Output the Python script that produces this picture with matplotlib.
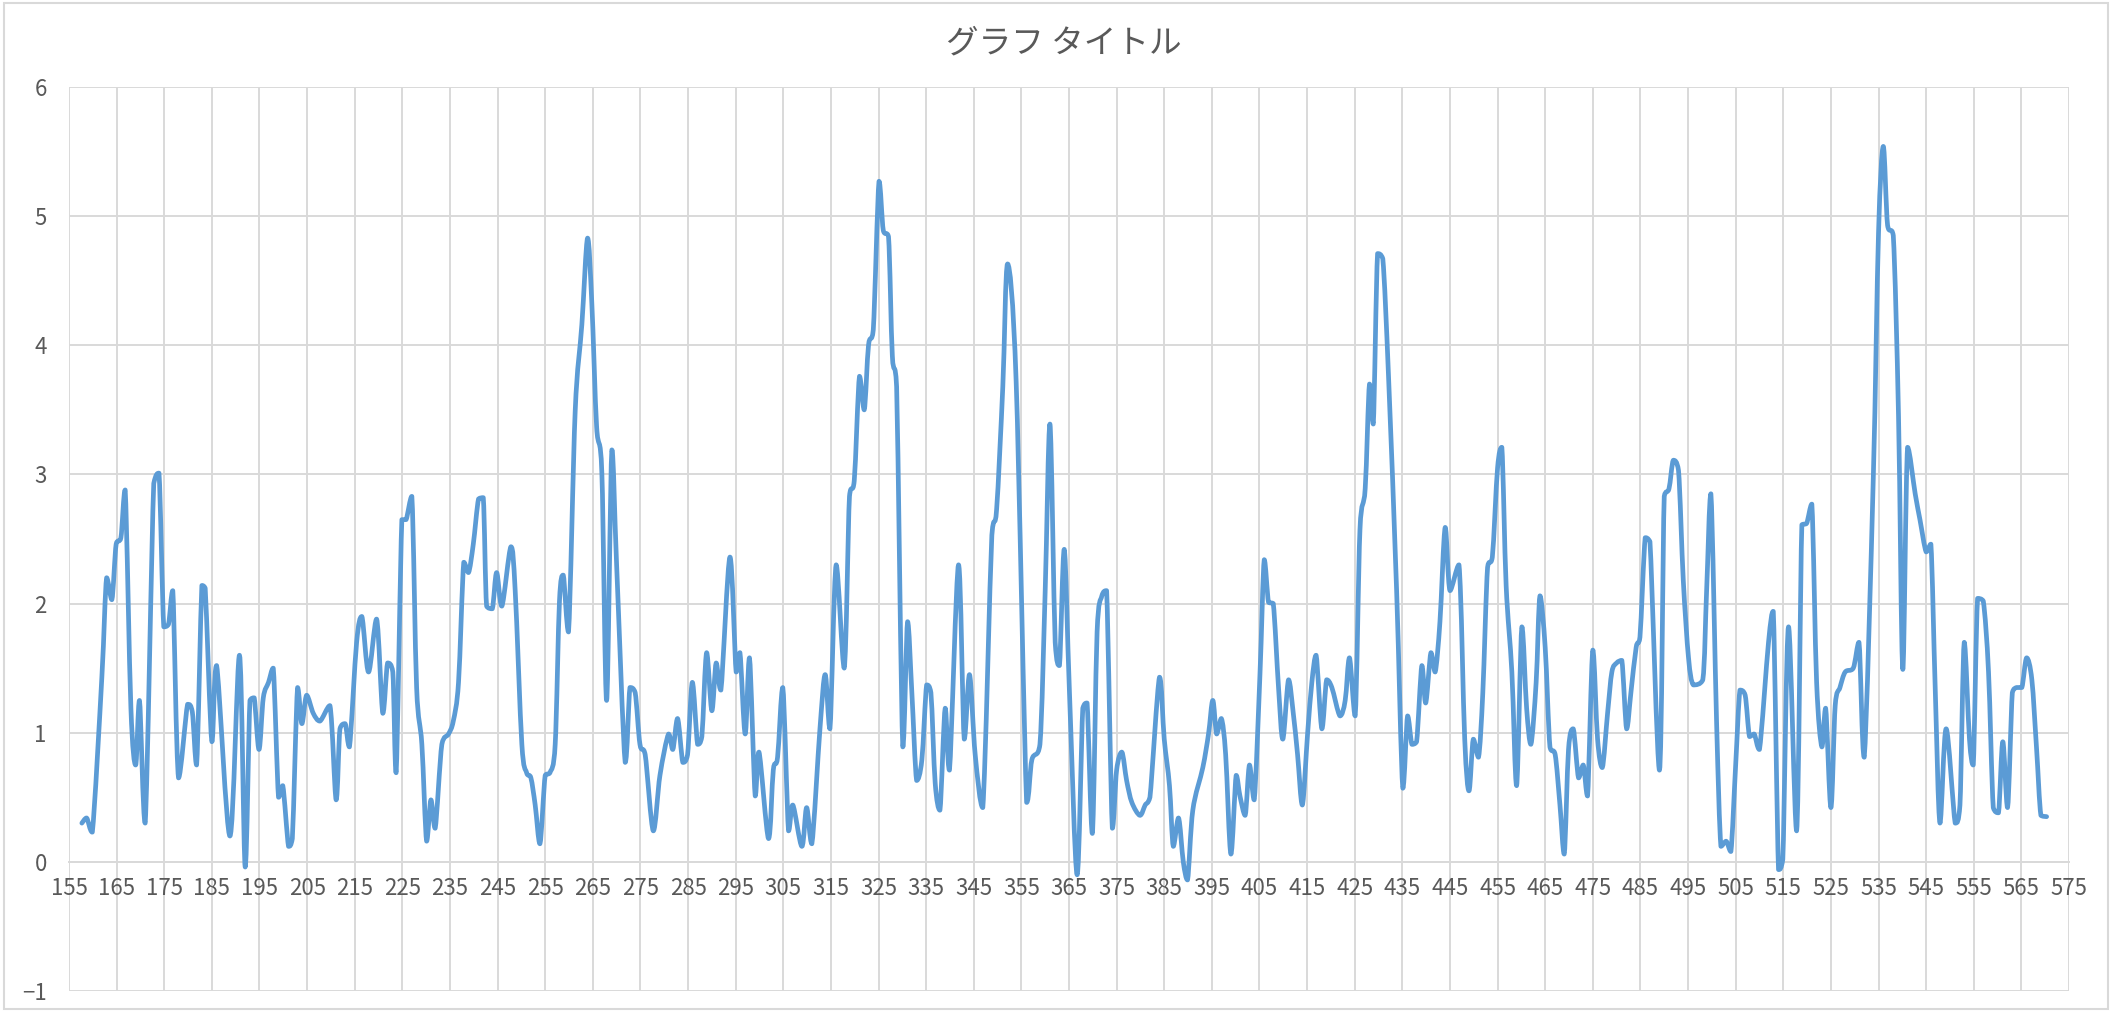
import matplotlib.pyplot as plt
from matplotlib.patches import Rectangle, PathPatch
from matplotlib.path import Path
import numpy as np

# points (x position, value)
xs = [157.7, 158.7, 159.9, 161.9, 162.9, 164.0, 164.9, 165.9, 166.8, 168.0,
      169.0, 169.8, 171.0, 172.8, 173.9, 174.9, 175.9, 176.8, 178.0, 179.9,
      180.9, 181.8, 182.9, 183.6, 185.0, 186.0, 188.8, 190.8, 192.0, 193.0,
      193.9, 194.9, 195.8, 196.9, 197.9, 199.0, 199.9, 201.1, 201.9, 203.0,
      203.9, 204.9, 206.3, 207.7, 209.8, 211.1, 211.9, 213.0, 213.9, 215.4,
      216.5, 217.9, 219.6, 220.9, 221.9, 223.0, 223.7, 224.9, 225.8, 227.0,
      228.0, 229.1, 230.1, 231.0, 231.9, 233.3, 234.7, 235.7, 236.8, 237.9,
      238.9, 239.9, 241.0, 242.0, 242.7, 243.9, 244.8, 245.9, 247.8, 248.7,
      250.1, 251.1, 252.0, 252.9, 253.9, 255.0, 256.0, 257.1, 258.0, 258.8,
      259.9, 261.3, 262.7, 263.9, 264.8, 265.8, 266.9, 267.9, 269.0, 270.0,
      271.8, 272.8, 273.9, 274.9, 276.0, 277.7, 279.1, 280.9, 281.8, 282.8,
      283.9, 284.9, 285.9, 287.0, 287.9, 288.9, 290.0, 290.9, 291.9, 293.8,
      295.1, 295.9, 297.0, 297.9, 299.1, 299.9, 301.9, 302.9, 303.8, 304.9,
      306.1, 307.0, 308.9, 309.9, 311.0, 312.7, 313.8, 314.8, 316.1, 317.8,
      318.9, 319.9, 321.0, 322.0, 322.9, 323.9, 325.1, 326.0, 327.1, 327.9,
      328.8, 330.1, 331.1, 332.0, 333.0, 334.1, 335.1, 336.0, 336.9, 337.9,
      339.0, 339.9, 341.8, 343.0, 344.1, 345.3, 346.9, 348.8, 349.8, 351.1,
      352.1, 353.9, 356.1, 357.2, 358.9, 360.0, 361.0, 362.1, 363.0, 364.0,
      365.1, 366.7, 367.9, 368.8, 369.9, 370.9, 371.9, 372.9, 374.1, 375.0,
      376.1, 377.1, 378.2, 379.9, 381.0, 382.0, 384.0, 385.0, 386.1, 386.9,
      388.0, 389.0, 389.9, 391.0, 393.1, 394.3, 395.2, 396.0, 397.0, 397.9,
      399.0, 400.1, 400.9, 402.0, 402.9, 403.9, 405.1, 406.0, 406.9, 407.9,
      409.0, 409.9, 411.1, 412.1, 413.0, 414.0, 415.1, 416.0, 416.9, 418.1,
      419.1, 420.2, 421.9, 423.0, 423.9, 425.1, 426.1, 427.2, 428.1, 428.9,
      429.8, 430.9, 432.1, 433.8, 435.1, 436.1, 437.0, 438.0, 439.1, 439.9,
      441.0, 441.9, 442.9, 444.0, 445.0, 446.9, 448.1, 449.0, 449.9, 451.0,
      451.9, 452.9, 453.9, 455.0, 455.9, 456.8, 458.0, 459.0, 460.1, 461.1,
      462.0, 463.1, 463.9, 465.0, 466.0, 467.1, 468.1, 469.0, 469.9, 470.9,
      472.0, 473.0, 473.9, 475.0, 476.0, 477.0, 478.1, 479.0, 480.0, 481.1,
      482.1, 483.0, 484.1, 484.9, 486.0, 487.0, 489.0, 490.0, 491.0, 491.9,
      493.0, 494.0, 495.1, 496.1, 498.1, 498.9, 499.8, 501.0, 501.9, 503.0,
      504.0, 505.0, 505.9, 507.0, 507.9, 508.9, 510.0, 511.9, 512.9, 514.0,
      514.9, 516.1, 517.8, 518.9, 519.9, 521.0, 522.0, 523.1, 523.9, 525.0,
      525.9, 526.9, 528.0, 529.7, 530.9, 532.0, 533.9, 535.0, 536.0, 536.9,
      538.1, 539.2, 540.1, 541.1, 542.7, 543.7, 545.0, 546.0, 546.9, 547.9,
      549.2, 551.1, 552.1, 553.0, 554.1, 554.9, 555.8, 557.0, 558.1, 559.1,
      560.2, 561.1, 562.1, 563.1, 564.0, 565.1, 566.1, 567.2, 568.2, 569.1,
      570.3]
ys = [0.30, 0.34, 0.23, 1.43, 2.20, 2.03, 2.46, 2.51, 2.88, 1.19,
      0.75, 1.25, 0.30, 2.93, 3.01, 1.82, 1.84, 2.10, 0.65, 1.22,
      1.16, 0.75, 2.14, 2.12, 0.93, 1.52, 0.20, 1.60, -0.04, 1.25,
      1.27, 0.87, 1.27, 1.39, 1.50, 0.50, 0.59, 0.12, 0.18, 1.35,
      1.07, 1.29, 1.15, 1.09, 1.21, 0.48, 1.03, 1.07, 0.89, 1.70,
      1.90, 1.47, 1.88, 1.15, 1.54, 1.47, 0.69, 2.65, 2.65, 2.83,
      1.35, 0.91, 0.16, 0.48, 0.26, 0.91, 0.99, 1.09, 1.39, 2.32,
      2.24, 2.46, 2.81, 2.82, 1.98, 1.96, 2.24, 1.98, 2.44, 2.10,
      0.91, 0.69, 0.65, 0.44, 0.14, 0.67, 0.69, 0.91, 2.02, 2.22,
      1.78, 3.49, 4.16, 4.83, 4.32, 3.37, 3.01, 1.25, 3.19, 2.30,
      0.77, 1.35, 1.31, 0.91, 0.83, 0.24, 0.67, 0.99, 0.87, 1.11,
      0.77, 0.83, 1.39, 0.91, 0.97, 1.62, 1.17, 1.54, 1.33, 2.36,
      1.47, 1.62, 0.99, 1.58, 0.51, 0.85, 0.18, 0.71, 0.81, 1.35,
      0.24, 0.44, 0.12, 0.42, 0.14, 1.03, 1.45, 1.03, 2.30, 1.50,
      2.83, 2.95, 3.76, 3.50, 4.00, 4.12, 5.27, 4.89, 4.84, 3.92,
      3.68, 0.89, 1.86, 1.31, 0.63, 0.79, 1.37, 1.31, 0.61, 0.40,
      1.19, 0.71, 2.30, 0.95, 1.45, 0.83, 0.42, 2.53, 2.73, 3.68,
      4.63, 3.72, 0.46, 0.79, 0.91, 2.10, 3.39, 1.70, 1.52, 2.42,
      1.31, -0.10, 1.19, 1.23, 0.22, 1.78, 2.06, 2.10, 0.26, 0.71,
      0.85, 0.63, 0.46, 0.36, 0.44, 0.50, 1.43, 0.95, 0.59, 0.12,
      0.34, 0.00, -0.14, 0.40, 0.73, 0.99, 1.25, 0.99, 1.11, 0.83,
      0.06, 0.67, 0.51, 0.36, 0.75, 0.48, 1.45, 2.34, 2.01, 2.00,
      1.35, 0.95, 1.41, 1.15, 0.83, 0.44, 0.99, 1.39, 1.60, 1.03,
      1.41, 1.35, 1.13, 1.25, 1.58, 1.13, 2.57, 2.89, 3.70, 3.39,
      4.71, 4.67, 3.76, 2.10, 0.57, 1.13, 0.91, 0.93, 1.52, 1.23,
      1.62, 1.47, 1.86, 2.59, 2.10, 2.30, 0.95, 0.55, 0.95, 0.81,
      1.31, 2.28, 2.36, 3.05, 3.21, 2.14, 1.47, 0.59, 1.82, 1.19,
      0.91, 1.39, 2.06, 1.66, 0.89, 0.83, 0.44, 0.06, 0.87, 1.03,
      0.65, 0.75, 0.51, 1.64, 0.95, 0.73, 1.15, 1.47, 1.54, 1.56,
      1.03, 1.31, 1.66, 1.74, 2.51, 2.48, 0.71, 2.83, 2.89, 3.11,
      3.03, 2.18, 1.58, 1.37, 1.41, 2.10, 2.85, 1.07, 0.12, 0.16,
      0.08, 0.75, 1.33, 1.29, 0.97, 0.99, 0.87, 1.70, 1.94, -0.06,
      0.02, 1.82, 0.24, 2.61, 2.62, 2.77, 1.39, 0.89, 1.19, 0.42,
      1.21, 1.35, 1.47, 1.50, 1.70, 0.81, 2.97, 4.87, 5.54, 4.93,
      4.85, 3.45, 1.49, 3.21, 2.85, 2.65, 2.40, 2.46, 1.35, 0.30,
      1.03, 0.30, 0.44, 1.70, 0.95, 0.75, 2.04, 2.02, 1.47, 0.42,
      0.38, 0.93, 0.42, 1.31, 1.35, 1.35, 1.58, 1.41, 0.87, 0.36,
      0.35]

x_ticks = np.arange(155, 576, 10)
y_ticks = np.arange(-1, 7, 1)
title = 'グラフ タイトル'

plt.rcParams['font.family'] = ['Noto Sans CJK JP', 'DejaVu Sans']

W, H = 2112, 1011
fig = plt.figure(figsize=(W / 100, H / 100), dpi=100)
ax = fig.add_axes([69 / W, 20 / H, 2000 / W, 904 / H])

# smoothed line like Excel: cubic bezier through the points,
# control points kept inside each segment so peaks do not overshoot
pts = np.column_stack([xs, ys])
n = len(pts)
t = 0.16
tang = np.zeros_like(pts)
for i in range(n):
    a = pts[max(i - 1, 0)]
    b = pts[min(i + 1, n - 1)]
    tang[i] = (b - a) * t
verts = [pts[0]]
codes = [Path.MOVETO]
for i in range(n - 1):
    lo = min(pts[i, 1], pts[i + 1, 1])
    hi = max(pts[i, 1], pts[i + 1, 1])
    c1 = pts[i] + tang[i]
    c2 = pts[i + 1] - tang[i + 1]
    c1[1] = np.clip(c1[1], lo, hi)
    c2[1] = np.clip(c2[1], lo, hi)
    verts += [c1, c2, pts[i + 1]]
    codes += [Path.CURVE4] * 3
line = PathPatch(Path(verts, codes), fill=False, ec='#5B9BD5', lw=3.4,
                 joinstyle='round', capstyle='round', zorder=3)
ax.add_patch(line)

ax.set_xlim(155, 575)
ax.set_ylim(-1, 6)
ax.set_xticks(x_ticks)
ax.set_yticks(y_ticks)
ax.grid(color='#d9d9d9', lw=1.4)
ax.set_axisbelow(True)

for s in ['top', 'right', 'left']:
    ax.spines[s].set_visible(False)
# category labels sit on the zero line like in Excel
ax.spines['bottom'].set_position(('data', 0))
ax.spines['bottom'].set_color('#d9d9d9')
ax.spines['bottom'].set_linewidth(1.4)
ax.tick_params(axis='both', length=0, labelsize=16, colors='#595959')
ax.tick_params(axis='x', pad=11)
ax.tick_params(axis='y', pad=16)

fig.text(1064 / W, 1 - 43 / H, title, ha='center', va='center',
         fontsize=23.5, color='#595959')

# chart area border
fig.add_artist(Rectangle((0.002, 0.002), 0.996, 0.995, transform=fig.transFigure,
                         fill=False, ec='#d9d9d9', lw=1.5))

fig.savefig('out.png', dpi=100)
